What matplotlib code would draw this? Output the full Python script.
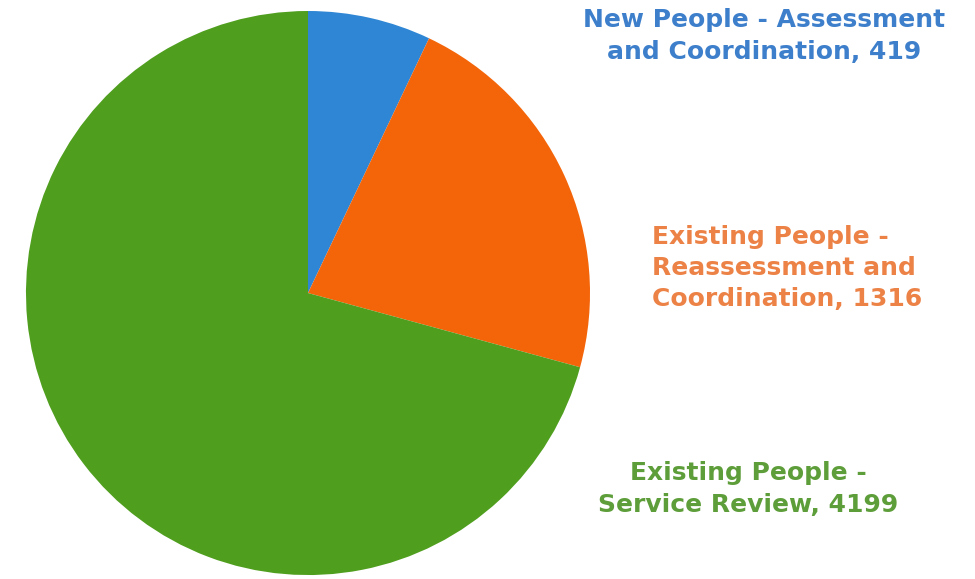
import matplotlib.pyplot as plt

# services delivered by type
labels = ["New People - Assessment\nand Coordination",
          "Existing People -\nReassessment and\nCoordination",
          "Existing People -\nService Review"]
counts = [419, 1316, 4199]
colors = ["#2E86D4", "#F4650A", "#4F9E1E"]
text_colors = ["#3D7FCB", "#EC8246", "#5E9E3A"]


def main():
    fig = plt.figure(figsize=(9.75, 5.79), dpi=100)
    ax = fig.add_axes([0, 0, 1, 1])

    ax.pie(counts, colors=colors, startangle=90, counterclock=False,
           radius=1.0, wedgeprops=dict(linewidth=0))

    # label block for each slice, off to the right of the pie
    label_xy = [(1.618, 0.911), (1.220, 0.089), (1.560, -0.695)]
    aligns = ['center', 'left', 'center']
    for lab, n, c, (x, y), ha in zip(labels, counts, text_colors, label_xy, aligns):
        ax.text(x, y, "{}, {}".format(lab, n), color=c, fontsize=18,
                fontweight='bold', ha=ha, va='center', multialignment=ha,
                linespacing=1.38, family='DejaVu Sans')

    ax.set_xlim(-1.092, 2.365)
    ax.set_ylim(-1.014, 1.039)
    ax.set_aspect('equal')
    ax.axis('off')

    fig.savefig("out.png", dpi=100)


if __name__ == '__main__':
    main()
